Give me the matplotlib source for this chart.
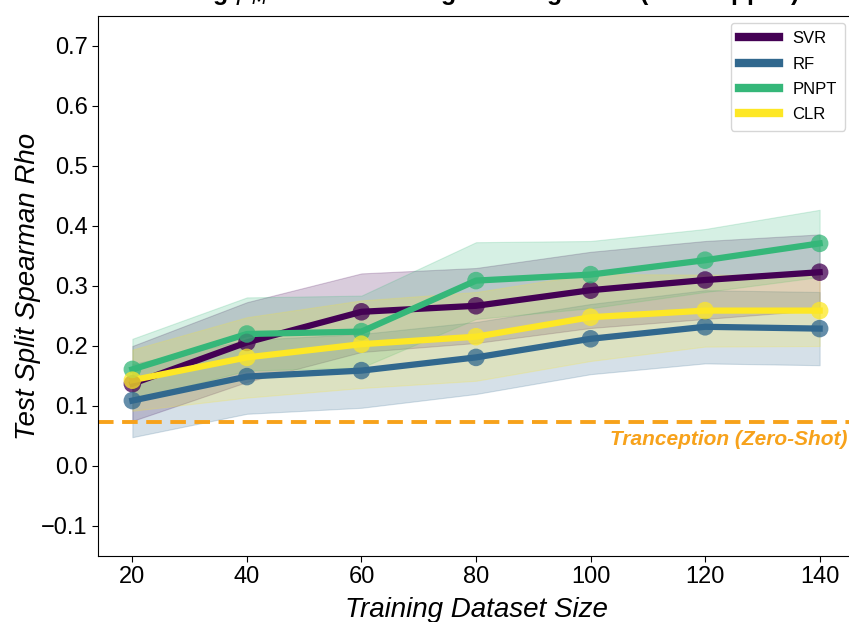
import matplotlib
matplotlib.use("Agg")
import matplotlib.pyplot as plt
import matplotlib.transforms as mtransforms
import numpy as np

plt.rcParams['font.family'] = ['Liberation Sans', 'DejaVu Sans']

sizes = [20, 40, 60, 80, 100, 120, 140]
methods = ["SVR", "RF", "PNPT", "CLR"]

svr_mean = [0.137, 0.206, 0.257, 0.267, 0.293, 0.310, 0.323]
svr_lo = [0.075, 0.140, 0.190, 0.205, 0.230, 0.245, 0.260]
svr_hi = [0.200, 0.273, 0.321, 0.330, 0.357, 0.375, 0.386]

rf_mean = [0.109, 0.149, 0.159, 0.181, 0.212, 0.232, 0.229]
rf_lo = [0.048, 0.087, 0.097, 0.120, 0.153, 0.171, 0.168]
rf_hi = [0.170, 0.210, 0.220, 0.240, 0.270, 0.293, 0.290]

pnpt_mean = [0.161, 0.220, 0.224, 0.309, 0.319, 0.343, 0.371]
pnpt_lo = [0.110, 0.159, 0.164, 0.245, 0.263, 0.290, 0.315]
pnpt_hi = [0.212, 0.281, 0.284, 0.373, 0.375, 0.395, 0.427]

clr_mean = [0.143, 0.181, 0.203, 0.2155, 0.248, 0.259, 0.259]
clr_lo = [0.092, 0.114, 0.130, 0.142, 0.175, 0.199, 0.200]
clr_hi = [0.194, 0.248, 0.276, 0.290, 0.320, 0.319, 0.318]

zero_shot = 0.0735

means = [svr_mean, rf_mean, pnpt_mean, clr_mean]
los = [svr_lo, rf_lo, pnpt_lo, clr_lo]
his = [svr_hi, rf_hi, pnpt_hi, clr_hi]
colors = plt.cm.viridis(np.linspace(0, 1, 4))

fig = plt.figure(figsize=(8.49, 6.22), dpi=100)
ax = fig.add_axes([98/849, 1-556/622, (854-98)/849, 540/622])
ax.spines['right'].set_visible(False)

for name, m, lo, hi, c in zip(methods, means, los, his, colors):
    ax.fill_between(sizes, lo, hi, color=c, alpha=0.2, lw=0.8)
for name, m, lo, hi, c in zip(methods, means, los, his, colors):
    ax.plot(sizes, m, color=c, lw=4.5, label=name, zorder=3)
    ax.scatter(sizes, m, color=c, s=160, alpha=0.75, zorder=4, edgecolors='none')

orange = '#f7a21b'
ax.axhline(zero_shot, color=orange, lw=2.8, ls=(0, (4, 2.2)), zorder=2)
trans = mtransforms.blended_transform_factory(fig.transFigure, ax.transData)
ax.text(847/849, zero_shot - 0.013, "Tranception (Zero-Shot)", transform=trans,
        color=orange, fontsize=15, style='italic', fontweight='bold', ha='right', va='top')

ax.set_xlim(14, 146)
ax.set_ylim(-0.15, 0.75)
ax.set_xticks(sizes)
ax.set_yticks([-0.1, 0.0, 0.1, 0.2, 0.3, 0.4, 0.5, 0.6, 0.7])
ax.set_yticklabels(["\u22120.1", "0.0", "0.1", "0.2", "0.3", "0.4", "0.5", "0.6", "0.7"])
ax.tick_params(labelsize=17, length=4)
ax.set_xlabel("Training Dataset Size", fontsize=20, style='italic', labelpad=6)
ax.set_ylabel("Test Split Spearman Rho", fontsize=20, style='italic')
ax.yaxis.set_label_coords((41 - 98) / 756, 0.5)

leg = ax.legend(loc='upper right', bbox_to_anchor=(845/849, 1-23/622), bbox_transform=fig.transFigure,
                fontsize=12, handlelength=2.4, frameon=True, borderpad=0.5, labelspacing=0.62,
                borderaxespad=0)
for h in leg.get_lines():
    h.set_linewidth(6)

fig.text(490/849, 1.0, r"Avg $\rho_M$ with Increasing Training Sizes (Not Mapped)",
         fontsize=18, fontweight='bold', ha='center', va='baseline')

fig.savefig("out.png", dpi=100)
